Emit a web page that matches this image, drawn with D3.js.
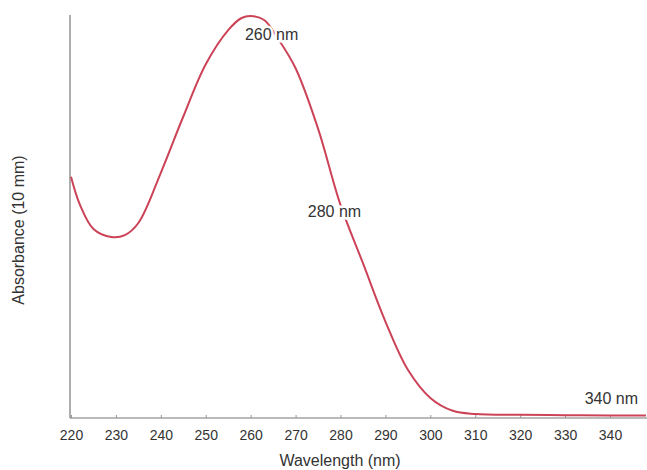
<!DOCTYPE html>
<html>
<head>
<meta charset="utf-8">
<script src="https://cdn.jsdelivr.net/npm/d3@7"></script>
<style>
  body { margin: 0; background: #fff; }
  svg { display: block; font-family: "Liberation Sans", Arial, sans-serif; }
</style>
</head>
<body>
<div id="chart"></div>
<script>
// spectrum
var wavelengths = [220, 222, 225, 229, 232, 235, 240, 245, 250, 255, 258, 260, 263, 266, 270, 275, 280, 285, 290, 295, 300, 305, 310, 320, 330, 340, 348];
var absorbance = [0.60, 0.53, 0.47, 0.45, 0.455, 0.485, 0.61, 0.75, 0.88, 0.965, 0.995, 1.0, 0.99, 0.945, 0.87, 0.72, 0.53, 0.385, 0.24, 0.12, 0.05, 0.018, 0.01, 0.008, 0.007, 0.006, 0.006];
var xTicks = [220, 230, 240, 250, 260, 270, 280, 290, 300, 310, 320, 330, 340];
var peakLabels = ['260 nm', '280 nm', '340 nm'];
var peakAt = [260, 280, 340];

var width = 647;
var height = 470;

var svg = d3.select('#chart')
  .append('svg')
  .attr('width', width)
  .attr('height', height)

var x = d3.scaleLinear()
  .domain([220, 340])
  .range([71, 610])

var y = d3.scaleLinear()
  .domain([0, 1])
  .range([418, 16])

// x axis, runs off the right edge
svg.append('line')
  .attr('x1', 70).attr('x2', width)
  .attr('y1', 418).attr('y2', 418)
  .attr('stroke', '#777')
  .attr('stroke-width', 1.2)

var xAxis = svg.append('g')
  .attr('transform', 'translate(0,418)')
  .call(d3.axisBottom(x).tickValues(xTicks).tickSize(-3).tickPadding(12))

xAxis.select('.domain').remove()
xAxis.selectAll('line').attr('stroke', '#999')
xAxis.selectAll('text')
  .attr('font-size', 14)
  .attr('fill', '#333')

// y axis line only
svg.append('line')
  .attr('x1', 70).attr('x2', 70)
  .attr('y1', 15).attr('y2', 418)
  .attr('stroke', '#777')
  .attr('stroke-width', 1.2)

var data = wavelengths.map(function(w, i) { return {w: w, a: absorbance[i]}; })

var line = d3.line()
  .x(function(d) { return x(d.w); })
  .y(function(d) { return y(d.a); })
  .curve(d3.curveCatmullRom.alpha(0.5))

svg.append('path')
  .datum(data)
  .attr('d', line)
  .attr('fill', 'none')
  .attr('stroke', '#cc4358')
  .attr('stroke-width', 2)

// labels sit on the curve with a white halo
var labelPos = [
  {dx: 21, dy: 24, anchor: 'middle'},
  {dx: -6, dy: 12, anchor: 'middle'},
  {dx: 28, dy: -12, anchor: 'end'}
]

peakLabels.forEach(function(t, i) {
  var a = absorbance[wavelengths.indexOf(peakAt[i])]
  svg.append('text')
    .attr('x', x(peakAt[i]) + labelPos[i].dx)
    .attr('y', y(a) + labelPos[i].dy)
    .attr('text-anchor', labelPos[i].anchor)
    .attr('font-size', 16)
    .attr('fill', '#333')
    .attr('stroke', '#fff')
    .attr('stroke-width', 5)
    .attr('paint-order', 'stroke')
    .text(t)
})

svg.append('text')
  .attr('x', 340)
  .attr('y', 466)
  .attr('text-anchor', 'middle')
  .attr('font-size', 16)
  .attr('fill', '#333')
  .text('Wavelength (nm)')

svg.append('text')
  .attr('transform', 'translate(24,230) rotate(-90)')
  .attr('text-anchor', 'middle')
  .attr('font-size', 16)
  .attr('fill', '#333')
  .text('Absorbance (10 mm)')
</script>
</body>
</html>
